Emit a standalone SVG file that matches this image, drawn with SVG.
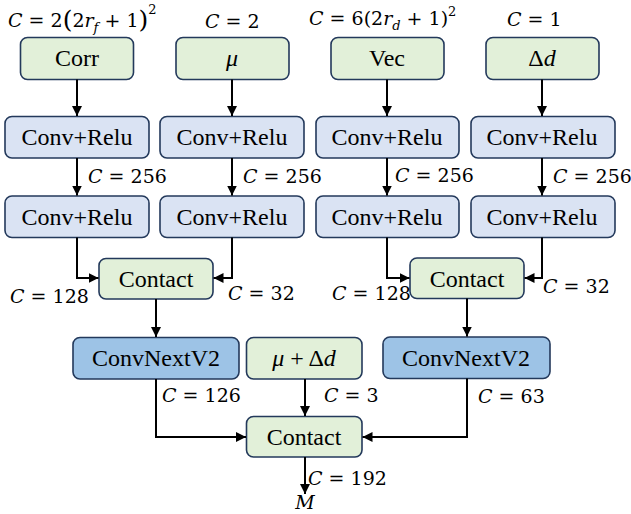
<svg xmlns="http://www.w3.org/2000/svg" width="631" height="514" viewBox="0 0 631 514">
  <defs>
    <marker id="arr" viewBox="0 0 10 10" refX="10" refY="5" markerWidth="10" markerHeight="10" markerUnits="userSpaceOnUse" orient="auto">
      <path d="M0,0 L10,5 L0,10 z" fill="#000"/>
    </marker>
    <style>
      .box { stroke: #23395b; stroke-width: 1.6; }
      .in { fill: #e2f0d9; }
      .conv { fill: #dae3f3; }
      .next { fill: #9dc3e6; }
      .lbl { font-size: 24px; fill: #000; text-anchor: middle; }
      .math { font-size: 19px; fill: #000; }
      .it { font-style: italic; }
      .wire { fill: none; stroke: #000; stroke-width: 2; marker-end: url(#arr); }
    </style>
  </defs>
  <rect width="631" height="514" fill="#fff"/>

  <g id="nodes" font-family="'Liberation Serif', serif">
  <!-- inputs -->
  <g id="corr">
    <rect class="box in" x="20.5" y="37.5" width="113" height="42" rx="7"/>
    <text class="lbl" x="77" y="66">Corr</text>
  </g>
  <g id="mu">
    <rect class="box in" x="176" y="37.5" width="113" height="42" rx="7"/>
    <text class="lbl it" x="232" y="66">μ</text>
  </g>
  <g id="vec">
    <rect class="box in" x="331" y="37.5" width="113" height="42" rx="7"/>
    <text class="lbl" x="387" y="66">Vec</text>
  </g>
  <g id="delta-d">
    <rect class="box in" x="486" y="37.5" width="113" height="42" rx="7"/>
    <text class="lbl" x="542" y="66">Δ<tspan class="it">d</tspan></text>
  </g>

  <!-- first conv layer -->
  <g id="conv1a">
    <rect class="box conv" x="5" y="116.5" width="144" height="41.5" rx="7"/>
    <text class="lbl" x="77" y="145">Conv+Relu</text>
  </g>
  <g id="conv1b">
    <rect class="box conv" x="160" y="116.5" width="144" height="41.5" rx="7"/>
    <text class="lbl" x="232" y="145">Conv+Relu</text>
  </g>
  <g id="conv1c">
    <rect class="box conv" x="316" y="116.5" width="143" height="41.5" rx="7"/>
    <text class="lbl" x="387" y="145">Conv+Relu</text>
  </g>
  <g id="conv1d">
    <rect class="box conv" x="471" y="116.5" width="144" height="41.5" rx="7"/>
    <text class="lbl" x="542" y="145">Conv+Relu</text>
  </g>

  <!-- second conv layer -->
  <g id="conv2a">
    <rect class="box conv" x="5" y="196" width="144" height="41.5" rx="7"/>
    <text class="lbl" x="77" y="225">Conv+Relu</text>
  </g>
  <g id="conv2b">
    <rect class="box conv" x="160" y="196" width="144" height="41.5" rx="7"/>
    <text class="lbl" x="232" y="225">Conv+Relu</text>
  </g>
  <g id="conv2c">
    <rect class="box conv" x="316" y="196" width="143" height="41.5" rx="7"/>
    <text class="lbl" x="387" y="225">Conv+Relu</text>
  </g>
  <g id="conv2d">
    <rect class="box conv" x="471" y="196" width="144" height="41.5" rx="7"/>
    <text class="lbl" x="542" y="225">Conv+Relu</text>
  </g>

  <!-- branch merges -->
  <g id="contact-left">
    <rect class="box in" x="99" y="258.5" width="114" height="40.5" rx="7"/>
    <text class="lbl" x="156" y="287">Contact</text>
  </g>
  <g id="contact-right">
    <rect class="box in" x="410" y="258" width="114" height="40.5" rx="7"/>
    <text class="lbl" x="467" y="286.5">Contact</text>
  </g>

  <!-- ConvNeXt V2 blocks and skip input -->
  <g id="convnext-left">
    <rect class="box next" x="73" y="337.5" width="166" height="41.5" rx="7"/>
    <text class="lbl" x="156" y="366">ConvNextV2</text>
  </g>
  <g id="mu-plus-dd">
    <rect class="box in" x="246.5" y="337.5" width="115.5" height="41.5" rx="7"/>
    <text class="lbl" x="304" y="366"><tspan class="it">μ</tspan> + Δ<tspan class="it">d</tspan></text>
  </g>
  <g id="convnext-right">
    <rect class="box next" x="383" y="337" width="167" height="41.5" rx="7"/>
    <text class="lbl" x="466" y="365.5">ConvNextV2</text>
  </g>

  <!-- final merge -->
  <g id="contact-final">
    <rect class="box in" x="246.5" y="416.5" width="115.5" height="40.5" rx="7"/>
    <text class="lbl" x="304" y="445">Contact</text>
  </g>
  </g>

  <!-- connectors -->
  <g id="connectors">
    <path class="wire" d="M77,79.5 V116"/>
    <path class="wire" d="M232,79.5 V116"/>
    <path class="wire" d="M387,79.5 V116"/>
    <path class="wire" d="M542,79.5 V116"/>
    <path class="wire" d="M77,158 V195.5"/>
    <path class="wire" d="M232,158 V195.5"/>
    <path class="wire" d="M387,158 V195.5"/>
    <path class="wire" d="M542,158 V195.5"/>
    <path class="wire" d="M77,237.5 V278 H98.5"/>
    <path class="wire" d="M232,237.5 V278 H213.5"/>
    <path class="wire" d="M387,237.5 V278 H409.5"/>
    <path class="wire" d="M542,237.5 V278 H524.5"/>
    <path class="wire" d="M156,299 V337"/>
    <path class="wire" d="M467,298.5 V336.5"/>
    <path class="wire" d="M156,379 V437 H246"/>
    <path class="wire" d="M305,379 V416"/>
    <path class="wire" d="M467,378.5 V437 H362.5"/>
    <path class="wire" d="M305,457 V494"/>
  </g>

  <!-- channel labels -->
  <g id="labels" font-family="'DejaVu Serif', serif">
    <text class="math" x="8" y="27"><tspan class="it">C</tspan> = 2<tspan font-size="25" dy="1">(</tspan><tspan dy="-1">2</tspan><tspan class="it">r</tspan><tspan class="it" font-size="13" dy="5">f</tspan><tspan dy="-5"> + 1</tspan><tspan font-size="25" dy="1">)</tspan><tspan font-size="13" dy="-14">2</tspan></text>
    <text class="math" x="205" y="28"><tspan class="it">C</tspan> = 2</text>
    <text class="math" x="309" y="25"><tspan class="it">C</tspan> = 6(2<tspan class="it">r</tspan><tspan class="it" font-size="13" dy="5">d</tspan><tspan dy="-5"> + 1)</tspan><tspan font-size="13" dy="-9">2</tspan></text>
    <text class="math" x="507" y="26"><tspan class="it">C</tspan> = 1</text>

    <text class="math" x="88" y="183"><tspan class="it">C</tspan> = 256</text>
    <text class="math" x="243" y="183"><tspan class="it">C</tspan> = 256</text>
    <text class="math" x="395" y="182"><tspan class="it">C</tspan> = 256</text>
    <text class="math" x="553" y="183"><tspan class="it">C</tspan> = 256</text>

    <text class="math" x="10" y="303"><tspan class="it">C</tspan> = 128</text>
    <text class="math" x="228" y="300"><tspan class="it">C</tspan> = 32</text>
    <text class="math" x="332" y="300"><tspan class="it">C</tspan> = 128</text>
    <text class="math" x="543" y="293"><tspan class="it">C</tspan> = 32</text>

    <text class="math" x="162" y="402"><tspan class="it">C</tspan> = 126</text>
    <text class="math" x="324" y="402"><tspan class="it">C</tspan> = 3</text>
    <text class="math" x="478" y="403"><tspan class="it">C</tspan> = 63</text>
    <text class="math" x="308" y="485"><tspan class="it">C</tspan> = 192</text>
    <text class="math it" x="305" y="509" text-anchor="middle">M</text>
  </g>
</svg>
